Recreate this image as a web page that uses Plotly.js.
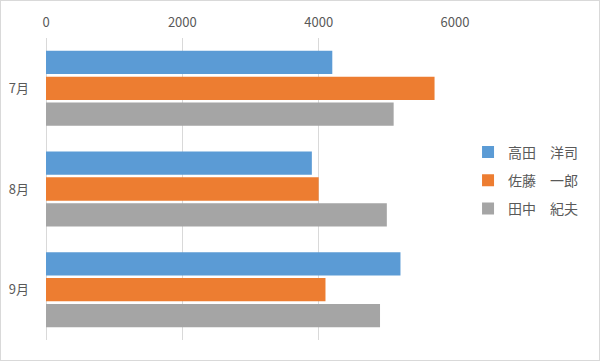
<!DOCTYPE html>
<html>
<head>
<meta charset="utf-8">
<script src="https://cdn.plot.ly/plotly-3.0.1.min.js"></script>
<style>
html,body{margin:0;padding:0;background:#fff;}
#wrap{width:598px;height:359px;border:1px solid #d9d9d9;}
#chart{width:598px;height:359px;}
</style>
</head>
<body>
<div id="wrap"><div id="chart"></div></div>
<script>
const months = ["7月", "8月", "9月"];
const seriesNames = ["高田　洋司", "佐藤　一郎", "田中　紀夫"];
const takada = [4200, 3900, 5200];
const sato = [5700, 4000, 4100];
const tanaka = [5100, 5000, 4900];
const tickVals = [0, 2000, 4000, 6000];

const colors = ["#5B9BD5", "#ED7D31", "#A5A5A5"];
const values = [takada, sato, tanaka];
const font = "'Noto Sans CJK JP', 'Liberation Sans', sans-serif";

const traces = values.map((v, i) => ({
  type: "bar",
  orientation: "h",
  name: seriesNames[i],
  y: months,
  x: v,
  legendgroup: "g" + i,
  marker: {color: colors[i], line: {width: 0}},
  hoverinfo: "x+name"
}));

const layout = {
  width: 598,
  height: 359,
  margin: {l: 45, r: 144, t: 37, b: 20, autoexpand: false},
  paper_bgcolor: "#ffffff",
  plot_bgcolor: "#ffffff",
  barmode: "group",
  bargap: 0.23,
  bargroupgap: 0.1,
  font: {family: font, color: "#595959", size: 13},
  xaxis: {
    side: "top",
    range: [0, 6000],
    tickvals: tickVals,
    ticktext: tickVals.map(String),
    showgrid: true,
    gridcolor: "#d9d9d9",
    gridwidth: 1,
    zeroline: true,
    zerolinecolor: "#d9d9d9",
    zerolinewidth: 1,
    showline: false,
    ticks: "",
    ticklabelstandoff: 7,
    tickfont: {size: 13, color: "#595959", family: font},
    automargin: false,
    fixedrange: true
  },
  yaxis: {
    autorange: "reversed",
    showgrid: false,
    zeroline: false,
    showline: false,
    ticks: "",
    tickfont: {size: 13, color: "#595959", family: font},
    ticklabelstandoff: 16,
    automargin: false,
    fixedrange: true
  },
  showlegend: true,
  legend: {
    xref: "container",
    yref: "container",
    x: 0.781,
    xanchor: "left",
    y: 0.50,
    yanchor: "middle",
    tracegroupgap: 7,
    font: {size: 14, color: "#595959", family: font},
    bgcolor: "rgba(0,0,0,0)",
    itemwidth: 30
  }
};

Plotly.newPlot("chart", traces, layout, {displayModeBar: false, staticPlot: true});
</script>
</body>
</html>
